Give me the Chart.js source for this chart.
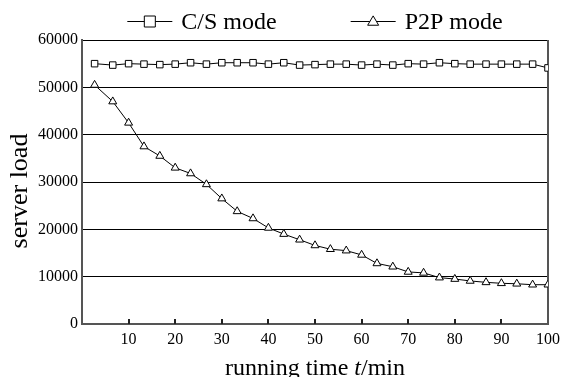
<!DOCTYPE html>
<html>
<head>
<meta charset="utf-8">
<script src="https://cdn.jsdelivr.net/npm/chart.js@4"></script>
<style>
  html, body { margin: 0; padding: 0; background: #fff; }
</style>
</head>
<body>
<canvas id="load-chart" width="566" height="377"></canvas>
<script>
// running time (min) of each sample
const times = [2.7, 6.6, 10, 13.3, 16.7, 20, 23.3, 26.7, 30, 33.3,
               36.7, 40, 43.3, 46.7, 50, 53.3, 56.7, 60, 63.3, 66.7,
               70, 73.3, 76.7, 80, 83.3, 86.7, 90, 93.3, 96.7, 100];
const csLoad = [55000, 54700, 55000, 54900, 54800, 54900, 55200, 54900, 55200, 55200,
                55200, 54900, 55200, 54700, 54800, 54900, 54900, 54700, 54900, 54700,
                55000, 54900, 55200, 55000, 54900, 54900, 54900, 54900, 54900, 54100];
const p2pLoad = [50500, 47000, 42500, 37500, 35500, 33000, 31800, 29500, 26500, 23800,
                 22300, 20300, 19000, 17800, 16600, 15800, 15500, 14600, 12800, 12100,
                 11000, 10800, 9800, 9500, 9100, 8800, 8600, 8500, 8300, 8300];
const seriesNames = ['C/S mode', 'P2P mode'];
const xTicks = [10, 20, 30, 40, 50, 60, 70, 80, 90, 100];
const yTicks = [0, 10000, 20000, 30000, 40000, 50000, 60000];

const SERIF = '"Liberation Serif", "Times New Roman", serif';
Chart.defaults.font.family = SERIF;
Chart.defaults.color = '#000';

const toPoints = (xs, ys) => xs.map((x, i) => ({ x, y: ys[i] }));

// legend marker: square or triangle with white fill
function drawMarker(ctx, style, cx, cy, size) {
    ctx.beginPath();
    if (style === 'rect') {
        ctx.rect(cx - size / 2, cy - size / 2, size, size);
    } else {
        const h = size * 0.85;
        ctx.moveTo(cx, cy - h * 0.6);
        ctx.lineTo(cx + size / 2, cy + h * 0.4);
        ctx.lineTo(cx - size / 2, cy + h * 0.4);
        ctx.closePath();
    }
    ctx.fill();
    ctx.stroke();
}

const paperPlugin = {
    id: 'paper',
    beforeDatasetsDraw(chart) {
        const { ctx, chartArea: { top, bottom, right } } = chart;
        const xs = chart.scales.x;
        ctx.save();
        // inward tick marks on the time axis
        ctx.strokeStyle = '#222';
        ctx.lineWidth = 2;
        xTicks.forEach(v => {
            const px = Math.round(xs.getPixelForValue(v));
            ctx.beginPath();
            ctx.moveTo(px, bottom);
            ctx.lineTo(px, bottom - 5);
            ctx.stroke();
        });
        // right frame
        ctx.strokeStyle = '#555';
        ctx.beginPath();
        ctx.moveTo(right, top);
        ctx.lineTo(right, bottom + 1);
        ctx.stroke();
        ctx.restore();
    },
    afterDraw(chart) {
        const { ctx, chartArea: { left, right, top, bottom } } = chart;
        const mid = (left + right) / 2;
        ctx.save();

        // ── legend ──
        const lineLen = 45, gap = 9, itemGap = 74;
        ctx.font = '24px ' + SERIF;
        const widths = seriesNames.map(s => ctx.measureText(s).width);
        const total = widths.reduce((a, w) => a + lineLen + gap + w, 0) + itemGap;
        let x = mid - total / 2;
        const styles = chart.data.datasets.map(d => d.pointStyle);
        seriesNames.forEach((name, i) => {
            ctx.strokeStyle = '#000';
            ctx.lineWidth = 1;
            ctx.beginPath();
            ctx.moveTo(x, 21.5);
            ctx.lineTo(x + lineLen, 21.5);
            ctx.stroke();
            ctx.fillStyle = '#fff';
            drawMarker(ctx, styles[i], x + lineLen / 2, 21.5, 11);
            ctx.fillStyle = '#000';
            ctx.textBaseline = 'alphabetic';
            ctx.fillText(name, x + lineLen + gap, 29);
            x += lineLen + gap + widths[i] + itemGap;
        });

        // ── x title with italic t ──
        const parts = [
            { text: 'running time ', font: '24px ' + SERIF },
            { text: 't', font: 'italic 24px ' + SERIF },
            { text: '/min', font: '24px ' + SERIF }
        ];
        const pw = parts.map(p => { ctx.font = p.font; return ctx.measureText(p.text).width; });
        let tx = mid - pw.reduce((a, b) => a + b, 0) / 2;
        parts.forEach((p, i) => {
            ctx.font = p.font;
            ctx.fillText(p.text, tx, 375);
            tx += pw[i];
        });

        // ── y title ──
        ctx.translate(27, (top + bottom) / 2 + 9);
        ctx.rotate(-Math.PI / 2);
        ctx.font = '26px ' + SERIF;
        ctx.textAlign = 'center';
        ctx.fillText('server load', 0, 0);
        ctx.restore();
    }
};

new Chart(document.getElementById('load-chart'), {
    type: 'line',
    data: {
        datasets: [
            {
                label: seriesNames[0],
                data: toPoints(times, csLoad),
                borderColor: '#000',
                borderWidth: 1,
                pointStyle: 'rect',
                pointRadius: 4.6,
                pointBackgroundColor: '#fff',
                pointBorderColor: '#000',
                pointBorderWidth: 1,
                tension: 0
            },
            {
                label: seriesNames[1],
                data: toPoints(times, p2pLoad),
                borderColor: '#000',
                borderWidth: 1,
                pointStyle: 'triangle',
                pointRadius: 4.6,
                pointBackgroundColor: '#fff',
                pointBorderColor: '#000',
                pointBorderWidth: 1,
                tension: 0
            }
        ]
    },
    plugins: [paperPlugin],
    options: {
        responsive: false,
        animation: false,
        layout: { padding: { top: 40, right: 13, left: 2, bottom: 0 } },
        plugins: {
            legend: { display: false },
            tooltip: { enabled: false }
        },
        scales: {
            x: {
                type: 'linear',
                min: 0,
                max: 100,
                afterBuildTicks: s => { s.ticks = xTicks.map(v => ({ value: v })); },
                afterFit: s => { s.height = 53; },
                grid: { display: false, drawTicks: false },
                border: { color: '#555', width: 2 },
                ticks: { padding: 6, font: { size: 16 }, color: '#000', maxRotation: 0, callback: v => String(v) }
            },
            y: {
                min: 0,
                max: 60000,
                afterBuildTicks: s => { s.ticks = yTicks.map(v => ({ value: v })); },
                afterFit: s => { s.width = 80; },
                grid: {
                    drawTicks: false,
                    color: ctx => ctx.tick && ctx.tick.value === 0 ? 'rgba(0,0,0,0)' : '#000',
                    lineWidth: 1
                },
                border: { color: '#555', width: 2 },
                ticks: { padding: 4, font: { size: 16 }, color: '#000', callback: v => String(v) }
            }
        }
    }
});
</script>
</body>
</html>
